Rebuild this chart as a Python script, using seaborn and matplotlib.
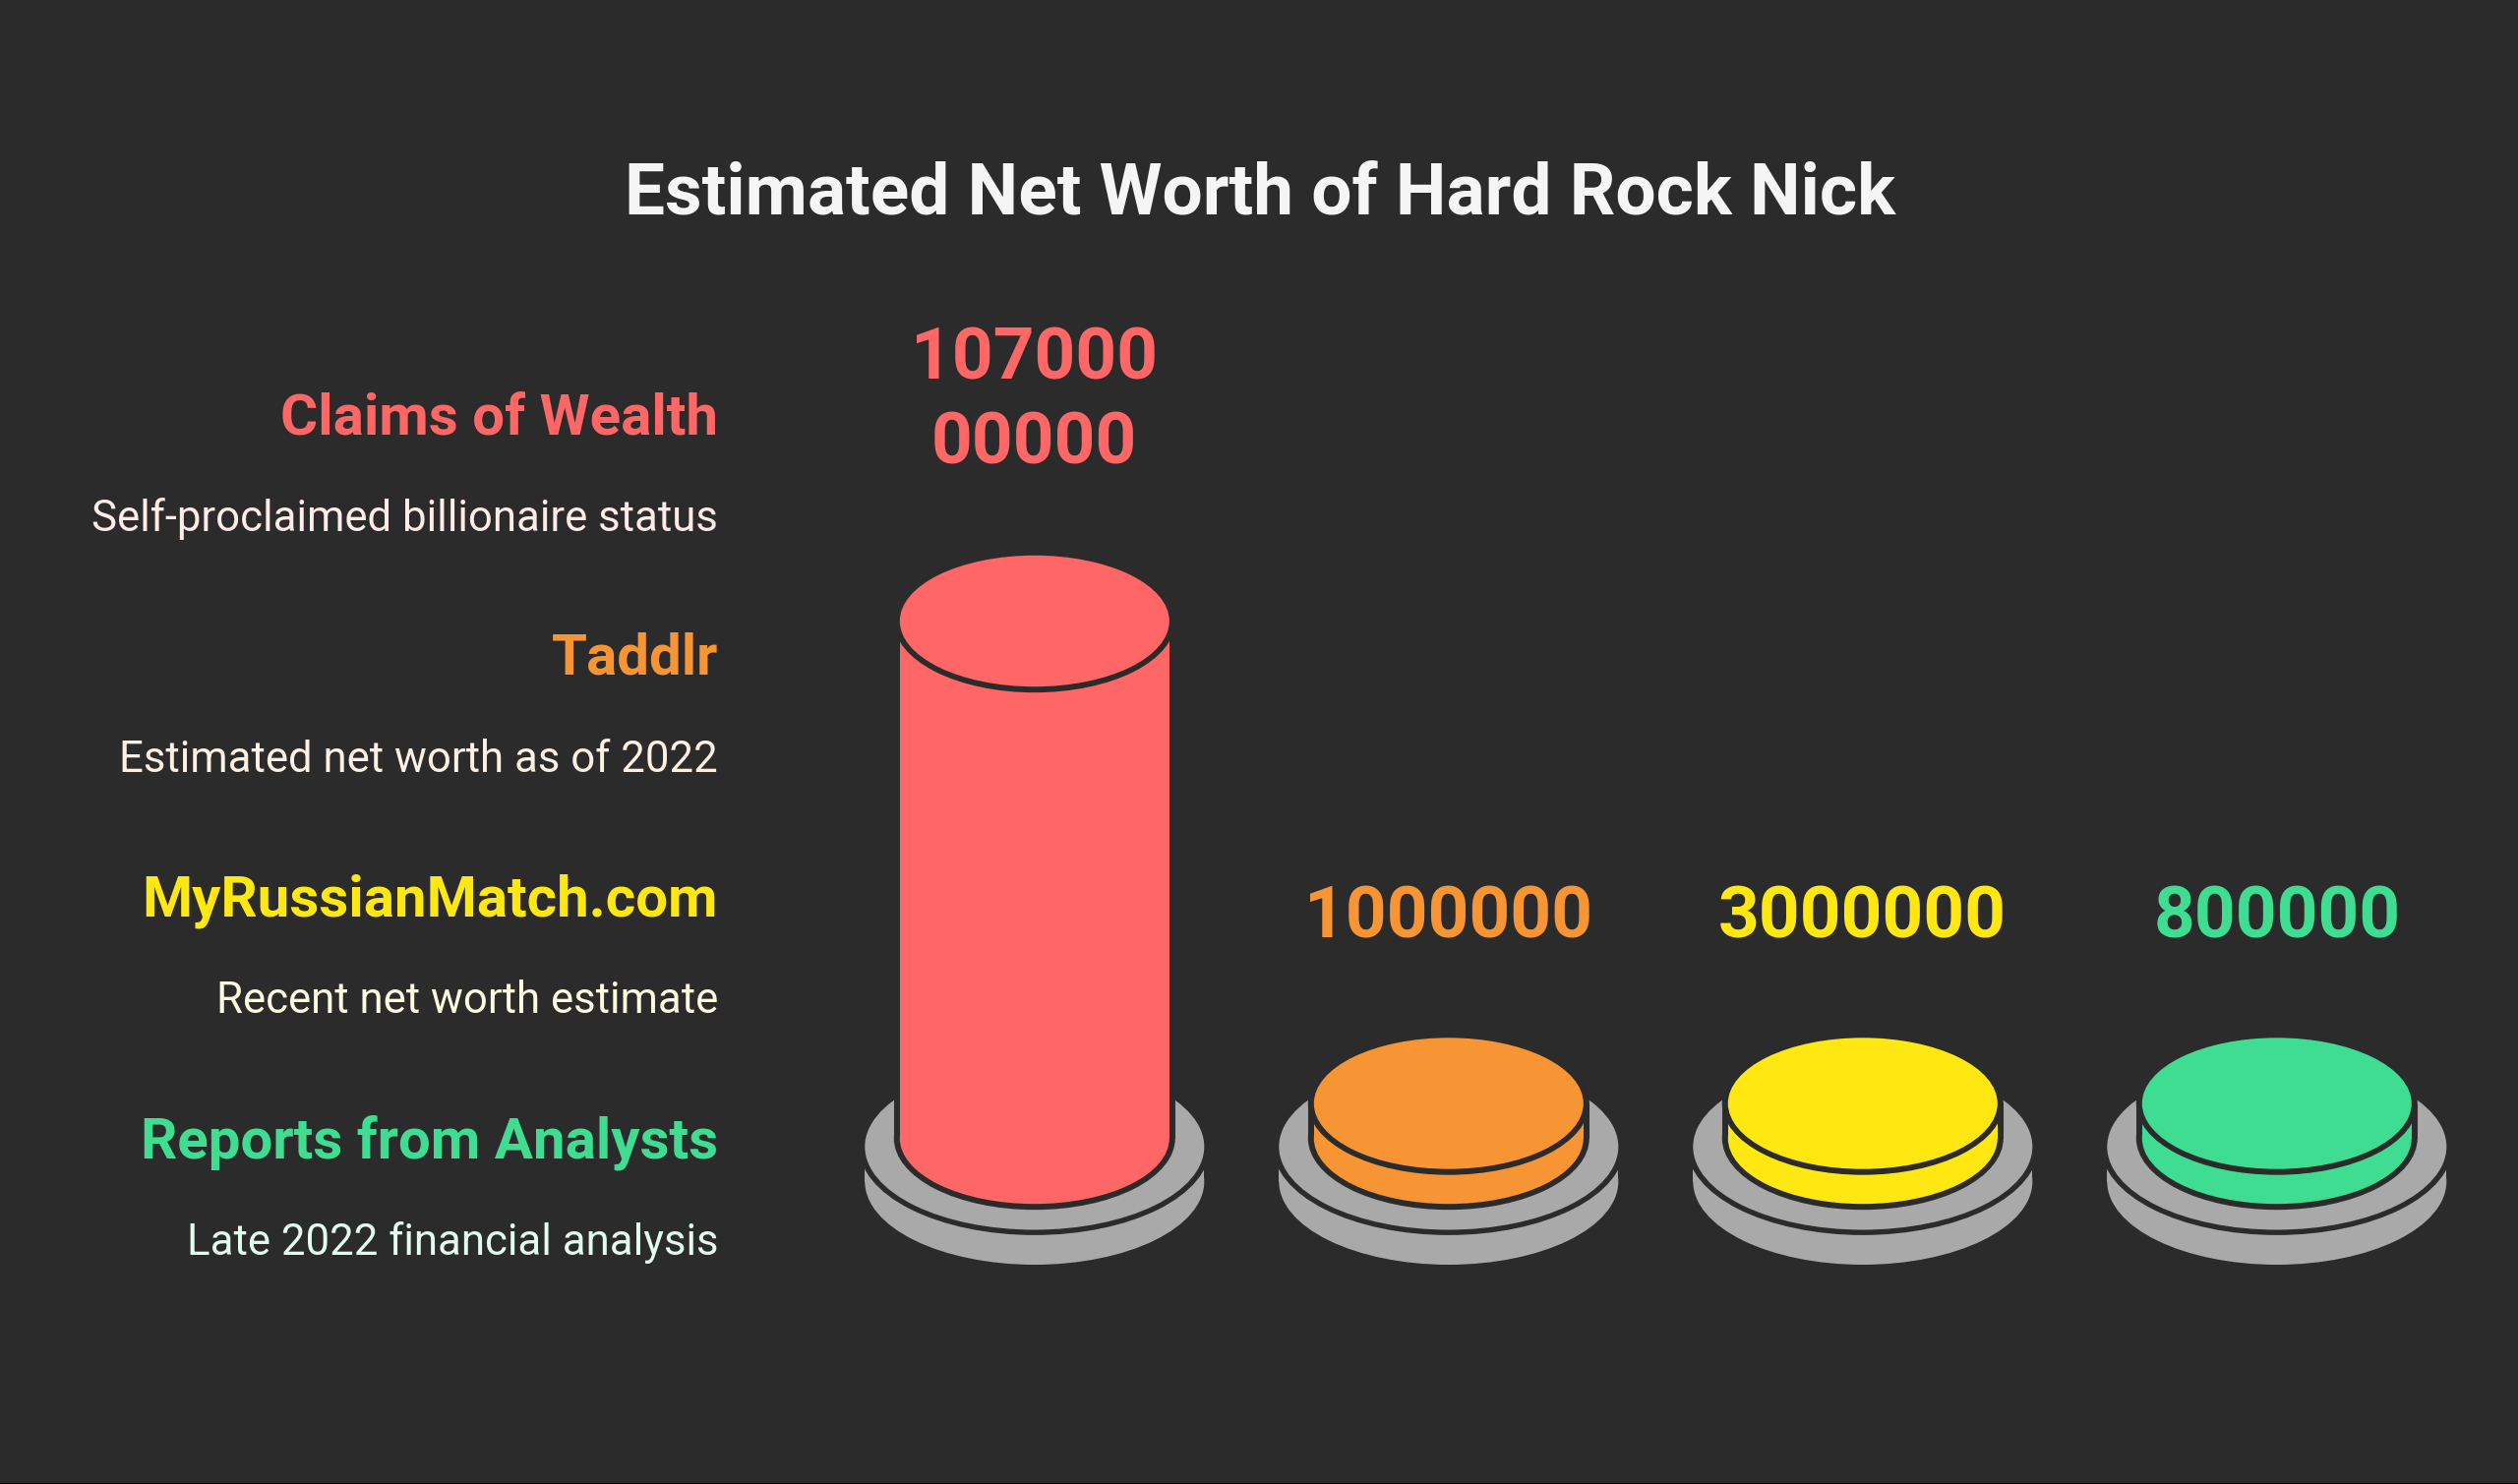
import numpy as np
import pandas as pd
import matplotlib
matplotlib.use("Agg")
import matplotlib.pyplot as plt
from matplotlib.patches import Ellipse, Rectangle
import seaborn as sns

# ---- data ----
categories = ["Claims of Wealth", "Taddlr", "MyRussianMatch.com", "Reports from Analysts"]
descriptions = ["Self-proclaimed billionaire status", "Estimated net worth as of 2022",
                "Recent net worth estimate", "Late 2022 financial analysis"]
net_worth = [10700000000, 1000000, 3000000, 800000]
value_labels = ["107000\n00000", "1000000", "3000000", "800000"]
title = "Estimated Net Worth of Hard Rock Nick"

# ---- style ----
colors = ["#FF6666", "#F79433", "#FFE811", "#3FDD91"]
desc_colors = ["#FFEBE8", "#FEF1E3", "#FFFBE0", "#E3FBEF"]
BG = "#2B2B2B"
GREY = "#A9A9A9"
W, H = 2560, 1509
DPI = 100
PX = 72 / DPI

sns.set_theme(style="white")
plt.rcParams["font.family"] = ["Roboto", "DejaVu Sans"]

fig = plt.figure(figsize=(W / DPI, H / DPI), dpi=DPI, facecolor=BG)

CAT_PX = 421.0
X0_PX = 1051.8
BASE_PX = 1157.5
TOP_PX = 631.5
RX, RY = 137.0, 66.7
GRX, GRY = 172.5, 84.5
STROKE = 6.0
MIN_BAR_PX = 35.5
PLINTH_TOP_PX = 1166.0
PLINTH_BOTTOM_PX = 1201.5

ax = fig.add_axes([(X0_PX - CAT_PX / 2) / W, 1 - BASE_PX / H,
                   4 * CAT_PX / W, (BASE_PX - TOP_PX) / H])
values = np.array(net_worth, dtype=float)
v_per_px = values.max() / (BASE_PX - TOP_PX)
shown = np.maximum(values, MIN_BAR_PX * v_per_px)
df = pd.DataFrame({"source": categories, "shown": shown})

sns.barplot(data=df, x="source", y="shown", hue="source", palette=colors, hue_order=categories,
            dodge=False, legend=False, saturation=1, width=2 * RX / CAT_PX, linewidth=0, ax=ax, zorder=5)
ax.set_xlim(-0.5, 3.5)
ax.set_ylim(0, values.max())
ax.axis("off")


def ell(x, y, rx_px, ry_px, color, z, **kw):
    e = Ellipse((x, y), 2 * rx_px / CAT_PX, 2 * ry_px * v_per_px, facecolor=color,
                edgecolor="none", linewidth=0, zorder=z, clip_on=kw.pop("clip_on", False), **kw)
    ax.add_patch(e)
    return e


for bar in ax.patches:
    bar.set_clip_on(False)

for i, h in enumerate(shown):
    y_pt = (BASE_PX - PLINTH_TOP_PX) * v_per_px
    y_pb = (BASE_PX - PLINTH_BOTTOM_PX) * v_per_px
    ell(i, y_pb, GRX, GRY, GREY, 1)
    ax.add_patch(Rectangle((i - GRX / CAT_PX, y_pb), 2 * GRX / CAT_PX, y_pt - y_pb, facecolor=GREY,
                           edgecolor="none", zorder=1, clip_on=False))
    seam = ell(i, y_pt, GRX + STROKE, GRY + STROKE * 0.9, BG, 1.5)
    seam.set_clip_on(True)
    seam.set_clip_path(Rectangle((i - GRX / CAT_PX, y_pb - GRY * v_per_px), 2 * GRX / CAT_PX,
                                 (y_pt - y_pb) + GRY * 3 * v_per_px, transform=ax.transData))
    ell(i, y_pt, GRX, GRY, GREY, 2)
    ell(i, 0, RX + STROKE, RY + STROKE, BG, 3)
    ax.add_patch(Rectangle((i - (RX + STROKE) / CAT_PX, 0), 2 * (RX + STROKE) / CAT_PX, h,
                           facecolor=BG, edgecolor="none", zorder=3, clip_on=False))
    ell(i, 0, RX, RY, colors[i], 5)
    ell(i, h, RX + STROKE, RY + STROKE, BG, 6)
    ell(i, h, RX, RY, colors[i], 7)


def txt(x, y, s, size_px, color, weight="normal", ha="right", **kw):
    return fig.text(x / W, 1 - y / H, s, fontsize=size_px * PX, color=color, fontweight=weight,
                    ha=ha, va="baseline", family=["Roboto", "DejaVu Sans"], **kw)


txt(1281, 217, title, 73, "#F5F5F5", "bold", ha="center")

head_base = [441, 686, 931, 1177]
desc_base = [540, 785, 1030, 1276]
for i in range(4):
    txt(730, head_base[i], categories[i], 58.3, colors[i], "bold")
    txt(730, desc_base[i], descriptions[i], 43.8, desc_colors[i])

for i, lab in enumerate(value_labels):
    cx = X0_PX + i * CAT_PX
    if "\n" in lab:
        a, b = lab.split("\n")
        txt(cx, 385, a, 73, colors[i], "bold", ha="center")
        txt(cx, 472, b, 73, colors[i], "bold", ha="center")
    else:
        txt(cx, 954, lab, 73, colors[i], "bold", ha="center")

fig.add_artist(Rectangle((0, 0), 1, 1.0 / H, transform=fig.transFigure, facecolor="#000000", edgecolor="none"))

fig.savefig("out.png", dpi=DPI, facecolor=BG)
